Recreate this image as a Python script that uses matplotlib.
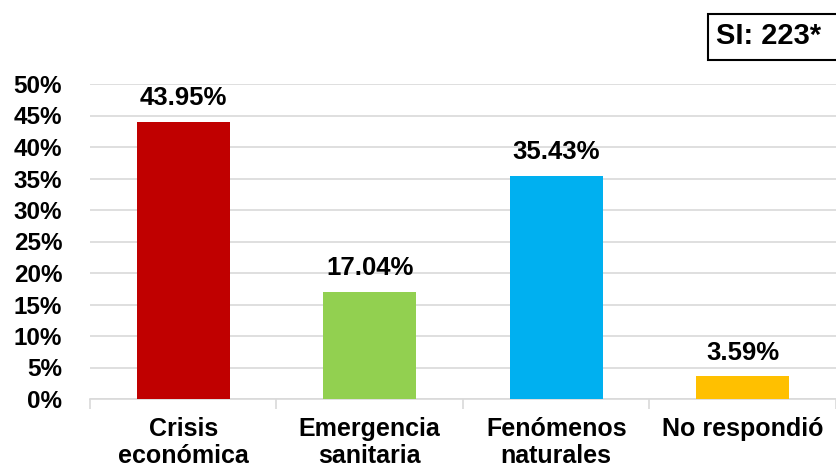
import matplotlib
matplotlib.use("Agg")
import matplotlib.pyplot as plt
from matplotlib.ticker import MultipleLocator, FuncFormatter
from matplotlib.patches import Rectangle

categories = ["Crisis\neconómica", "Emergencia\nsanitaria", "Fenómenos\nnaturales", "No respondió"]
values = [43.95, 17.04, 35.43, 3.59]
colors = ["#C00000", "#92D050", "#00B0F0", "#FFC000"]
note = "SI: 223*"

plt.rcParams['font.family'] = ['Liberation Sans', 'DejaVu Sans']
plt.rcParams['font.weight'] = 'bold'

W, H = 837, 470
fig = plt.figure(figsize=(W/100, H/100), dpi=100)
ax = fig.add_axes([90/W, 71/H, 746/W, 315/H])

x = list(range(len(categories)))
ax.bar(x, values, width=0.5, color=colors, zorder=3)
for xi, v in zip(x, values):
    ax.annotate(f"{v:.2f}%", (xi, v), xytext=(0, 12), textcoords='offset points',
                ha='center', va='baseline', fontsize=18.5, fontweight='bold')

ax.set_xlim(-0.5, len(categories) - 0.5)
ax.set_ylim(0, 50)
ax.yaxis.set_major_locator(MultipleLocator(5))
ax.yaxis.set_major_formatter(FuncFormatter(lambda v, p: f"{v:.0f}%"))
ax.grid(axis='y', color='#D9D9D9', linewidth=1.2, zorder=0)
for s in ['left', 'right', 'top']:
    ax.spines[s].set_visible(False)
ax.spines['bottom'].set_color('#D9D9D9')
ax.spines['bottom'].set_linewidth(1.2)

ax.set_xticks(x)
ax.set_xticklabels(categories, fontsize=18, fontweight='bold', linespacing=1.18)
ax.set_xticks([i - 0.5 for i in range(len(categories) + 1)], minor=True)
ax.tick_params(axis='x', which='major', length=0, pad=13)
ax.tick_params(axis='x', which='minor', length=7, color='#D9D9D9', width=1.2)
ax.tick_params(axis='y', length=0, labelsize=17.5, pad=20)
for lbl in ax.get_yticklabels():
    lbl.set_fontweight('bold')

fig.patches.append(Rectangle((708/W, 1 - 60/H), 140/W, 46/H, transform=fig.transFigure,
                             facecolor='white', edgecolor='black', linewidth=1.5))
fig.text(716/W, 1 - 44/H, note, ha='left', va='baseline', fontsize=21, fontweight='bold')

fig.savefig("out.png", dpi=100)
